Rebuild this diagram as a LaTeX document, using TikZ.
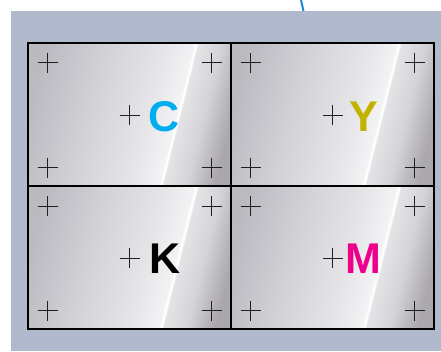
\documentclass[tikz,border=0pt]{standalone}
\usepackage{fontspec}
\setmainfont{Liberation Sans}
\usetikzlibrary{calc}
\definecolor{bgblue}{RGB}{176,186,204}
\definecolor{mA}{RGB}{188,185,193}
\definecolor{mB}{RGB}{210,209,214}
\definecolor{mC}{RGB}{230,230,233}
\definecolor{mD}{RGB}{243,243,245}
\definecolor{mE}{RGB}{228,228,231}
\definecolor{mF}{RGB}{212,211,215}
\definecolor{mG}{RGB}{170,167,174}
\definecolor{cyanC}{RGB}{0,174,239}
\definecolor{yelY}{RGB}{196,178,0}
\definecolor{magM}{RGB}{236,0,140}
\definecolor{wireblue}{RGB}{20,140,215}
\pgfdeclarehorizontalshading{metal}{100bp}{color(0bp)=(mA); color(23.8bp)=(mA); color(39.3bp)=(mB); color(54.8bp)=(mC); color(61.9bp)=(mD); color(62.3bp)=(white); color(62.6bp)=(white); color(63.0bp)=(mE); color(69.0bp)=(mF); color(76.2bp)=(mG); color(100bp)=(mG)}
\begin{document}
\begin{tikzpicture}[x=1pt,y=-1pt,
  cellbox/.style={shade,shading=metal,shading angle=-14,draw=none,inner sep=0pt,outer sep=0pt,
    minimum width=203pt,minimum height=143.3pt},
  crossline/.style={line width=1.1pt,draw=black!88},
  letter/.style={inner sep=0pt,font=\fontsize{43}{43}\selectfont\bfseries}]
\useasboundingbox (0,0) rectangle (441,351);
\fill[bgblue] (11,11) rectangle (441,351);
\coordinate (wtop) at (301,0);
\coordinate (wbot) at (303.5,11);
\draw[wireblue,line width=2pt] (wtop) .. controls (302.5,5) .. (wbot);
\node[cellbox] (c1) at (129.65,114.5) {};
\node[cellbox] (c2) at (332.5,114.5) {};
\node[cellbox] (c3) at (129.65,257.8) {};
\node[cellbox] (c4) at (332.5,257.8) {};
\newcommand\crossmark[1]{\draw[crossline] ($(#1)+(-10,0)$) -- ($(#1)+(10,0)$) ($(#1)+(0,-10)$) -- ($(#1)+(0,10)$);}
\foreach \c in {c1,c2,c3,c4}{
  \crossmark{$(\c.north west)+(19.5,20)$}
  \crossmark{$(\c.north east)+(-19.5,20)$}
  \crossmark{$(\c.south west)+(19.5,-18.6)$}
  \crossmark{$(\c.south east)+(-19.5,-18.6)$}
  \crossmark{$(\c.center)+(0,0.6)$}
}
\node[letter,text=cyanC] (lc) at ($(c1.center)+(34,2.5)$) {C};
\node[letter,text=yelY] (ly) at ($(c2.center)+(31.5,2.2)$) {Y};
\node[letter,text=black] (lk) at ($(c3.center)+(35,0.7)$) {K};
\node[letter,text=magM] (lm) at ($(c4.center)+(31,0.7)$) {M};
\draw[line width=2pt] (c1.north west) rectangle (c4.south east);
\draw[line width=2pt] (c1.north east) -- (c3.south east);
\draw[line width=2pt] (c1.south west) -- (c2.south east);
\end{tikzpicture}
\end{document}
